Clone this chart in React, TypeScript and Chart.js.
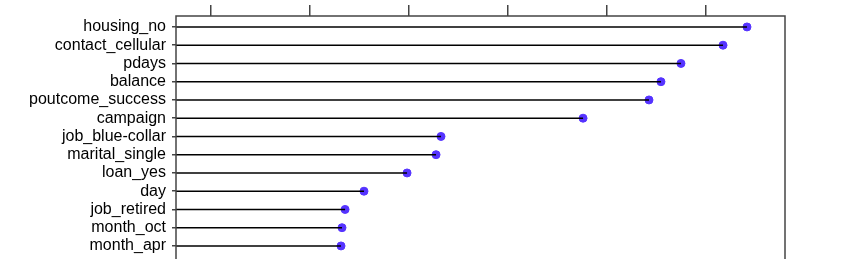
import React, { useEffect, useRef } from "react";
import { Chart, registerables } from "chart.js";

Chart.register(...registerables);

const CATEGORIES = [
  "housing_no",
  "contact_cellular",
  "pdays",
  "balance",
  "poutcome_success",
  "campaign",
  "job_blue-collar",
  "marital_single",
  "loan_yes",
  "day",
  "job_retired",
  "month_oct",
  "month_apr",
];

const VALUES = [64.14, 61.72, 57.47, 55.45, 54.24, 47.58, 33.23, 32.73, 29.8, 25.45, 23.54, 23.23, 23.13];

const X_TICKS = [10, 20, 30, 40, 50, 60];
const X_MIN = 6.46;
const X_MAX = 67.98;

const Y_MIN = -0.6;
const Y_MAX = 14.14;

const boxPlugin = {
  id: "boxPlugin",
  afterDraw(chart: any) {
    const { ctx, chartArea } = chart;
    ctx.save();
    ctx.strokeStyle = "#444";
    ctx.lineWidth = 1.5;
    ctx.strokeRect(chartArea.left, chartArea.top, chartArea.right - chartArea.left, chartArea.bottom - chartArea.top);
    ctx.restore();
  },
};

export default function App() {
  const ref = useRef<HTMLCanvasElement>(null);

  useEffect(() => {
    if (!ref.current) return;
    const stems = CATEGORIES.map((c, i) => ({
      type: "scatter" as const,
      label: c,
      data: [
        { x: X_MIN, y: i },
        { x: VALUES[i], y: i },
      ],
      showLine: true,
      borderColor: "#000",
      borderWidth: 1.5,
      pointRadius: 0,
      pointHoverRadius: 0,
    }));
    const points = {
      type: "scatter" as const,
      label: "importance",
      data: VALUES.map((v, i) => ({ x: v, y: i })),
      showLine: false,
      pointRadius: 4,
      pointBackgroundColor: "#5533ff",
      pointBorderColor: "#5533ff",
      pointBorderWidth: 1,
    };
    const chart = new Chart(ref.current, {
      type: "scatter",
      data: { datasets: [...stems, points] as any },
      plugins: [boxPlugin],
      options: {
        animation: false,
        responsive: false,
        layout: { padding: { top: 5, right: 68, left: 0, bottom: 0 } },
        plugins: { legend: { display: false }, tooltip: { enabled: false } },
        scales: {
          x: {
            type: "linear",
            position: "top",
            min: X_MIN,
            max: X_MAX,
            afterBuildTicks: (scale: any) => {
              scale.ticks = X_TICKS.map((v) => ({ value: v }));
            },
            afterFit: (scale: any) => {
              scale.paddingLeft = 0;
              scale.paddingRight = 0;
            },
            grid: { drawOnChartArea: false, tickLength: 11, color: "#444", lineWidth: 1.5 },
            border: { display: false },
            ticks: { display: false },
          },
          y: {
            type: "linear",
            reverse: true,
            min: Y_MIN,
            max: Y_MAX,
            afterBuildTicks: (scale: any) => {
              scale.ticks = CATEGORIES.map((_, i) => ({ value: i }));
            },
            afterFit: (scale: any) => {
              scale.width = 176;
              scale.paddingTop = 0;
              scale.paddingBottom = 0;
            },
            grid: { drawOnChartArea: false, tickLength: 4, color: "#444", lineWidth: 1.5 },
            border: { display: false },
            ticks: {
              autoSkip: false,
              padding: 6,
              color: "#000",
              font: { family: "'Liberation Sans', Arial, sans-serif", size: 16 },
              callback: (v: any) => CATEGORIES[v as number] ?? "",
            },
          },
        },
      },
    });
    return () => chart.destroy();
  }, []);

  return (
    <div style={{ position: "absolute", left: 0, top: 0, width: 853, height: 259, overflow: "hidden", background: "#fff" }}>
      <canvas ref={ref} width={853} height={290} />
    </div>
  );
}
